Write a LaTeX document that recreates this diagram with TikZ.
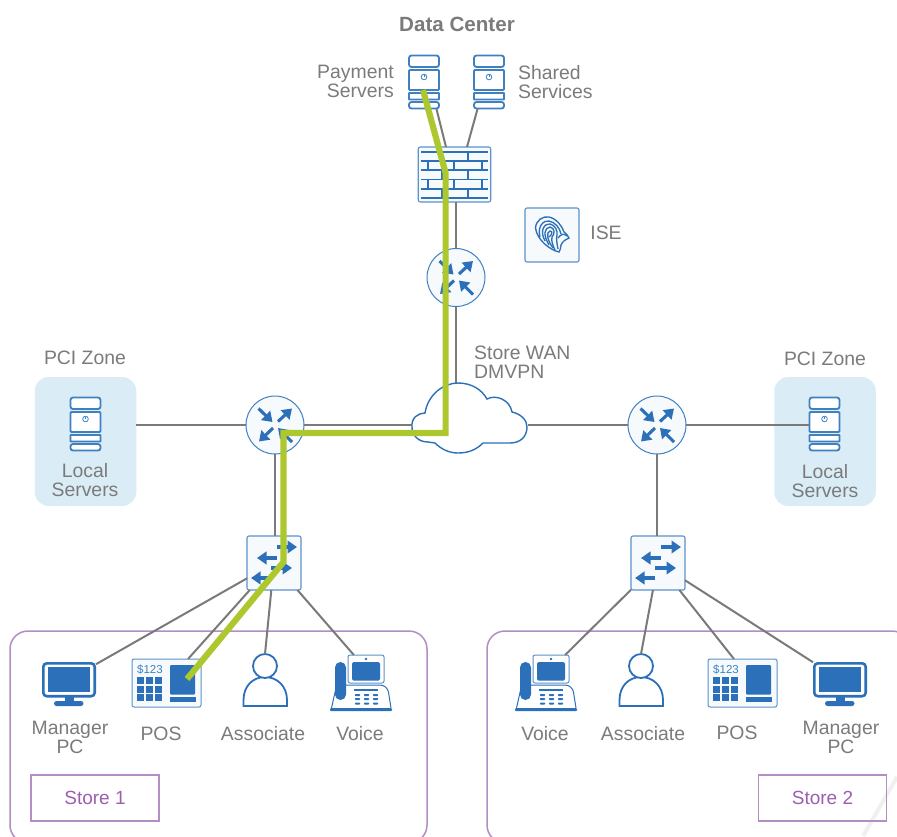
\documentclass[tikz,border=0pt]{standalone}
\usepackage{fontspec}
\setmainfont{Liberation Sans}
\usetikzlibrary{arrows.meta}
\definecolor{ciscoblue}{HTML}{2B70B8}
\definecolor{iconline}{HTML}{3F80C0}
\definecolor{iconfill}{HTML}{F7FAFD}
\definecolor{linegray}{HTML}{7A7A7A}
\definecolor{textgray}{HTML}{7B7B7B}
\definecolor{zoneblue}{HTML}{DAECF6}
\definecolor{storepurple}{HTML}{B28EC4}
\definecolor{storetext}{HTML}{9C5FB0}
\definecolor{pathgreen}{HTML}{ADC82E}
\tikzset{
  x=1pt,y=-1pt,
  lbl/.style={text=textgray,inner sep=0pt,font=\fontsize{19.4}{19}\selectfont,align=center},
  routerbox/.style={circle,draw=iconline,fill=iconfill,line width=1pt,minimum size=58pt,inner sep=0pt,outer sep=0pt},
  switchbox/.style={rectangle,rounded corners=2pt,draw=iconline!85,fill=iconfill,line width=1.1pt,minimum size=54pt,inner sep=0pt,outer sep=0pt},
  zonebox/.style={rectangle,rounded corners=14pt,fill=zoneblue,minimum width=101.5pt,minimum height=129pt,inner sep=0pt,outer sep=0pt},
  storeframe/.style={rectangle,rounded corners=18pt,draw=storepurple,line width=1.5pt,inner sep=0pt},
  storetag/.style={rectangle,draw=storepurple,line width=1.7pt,minimum width=128pt,minimum height=46pt,text=storetext,inner sep=0pt,font=\fontsize{19}{19}\selectfont},
  conn/.style={draw=linegray,line width=2pt},
  greenpath/.style={draw=pathgreen,line width=6.2pt,line join=miter},
  arr/.style={ciscoblue,line width=3.1pt,-{Triangle[length=9.5pt,width=12.5pt]}},
  icon/.style={draw=iconline,line width=1.8pt},
  devbox/.style={inner sep=0pt,outer sep=0pt},
  pics/serverart/.style={code={
    \begin{scope}[shift={(-424,-82)}]
    \draw[icon,fill=white,rounded corners=2.5pt] (409,67) -- (409,55.5) -- (439,55.5) -- (439,67) -- cycle;
    \draw[icon,fill=white,rounded corners=1pt] (409,70) rectangle (439,90);
    \draw[icon,fill=white,rounded corners=.5pt] (409,93) rectangle (439,99.5);
    \draw[icon,fill=white,rounded corners=2.5pt] (409,102) -- (409,108.5) -- (439,108.5) -- (439,102) -- cycle;
    \draw[iconline,line width=.8pt] (424,77) circle (2.8pt);
    \draw[iconline,line width=.8pt] (424,74.5) -- (424,77);
    \end{scope}}},
  pics/routerart/.style={code={
    \draw[arr] (-16.5,-16.5) -- (-2.5,-3);
    \draw[arr] (3,-3.5) -- (17,-16.5);
    \draw[arr] (-2,3) -- (-16,16.5);
    \draw[arr] (17,17) -- (3,3);}},
  pics/switchart/.style={code={
    \draw[arr] (3,-16) -- (23,-16);
    \draw[arr] (3,-5) -- (-17,-5);
    \draw[arr] (-3,5) -- (18,5);
    \draw[arr] (-3,15) -- (-23,15);}},
  pics/firewallart/.style={code={
    \begin{scope}[shift={(-454.5,-174.5)},ciscoblue,line width=1.9pt]
    \foreach \yy in {152,161,170,179.5,189,198} \draw (421,\yy) -- (488,\yy);
    \foreach \xx in {442,468} \foreach \yy/\zz in {152/161,170/179.5,189/198} \draw (\xx,\yy) -- (\xx,\zz);
    \foreach \xx in {428,454,482} \foreach \yy/\zz in {161/170,179.5/189} \draw (\xx,\yy) -- (\xx,\zz);
    \end{scope}}},
  pics/pcart/.style={code={
    \begin{scope}[shift={(-69,-679.5)}]
    \fill[ciscoblue] (64.5,696) rectangle (74,703);
    \fill[ciscoblue,rounded corners=2.5pt] (54,701) rectangle (83.5,706);
    \draw[ciscoblue,line width=2.6pt,fill=white,rounded corners=3.5pt] (43.3,663.3) rectangle (94.7,696.2);
    \fill[ciscoblue] (48,667) rectangle (90,692);
    \end{scope}}},
  pics/posart/.style={code={
    \begin{scope}[shift={(-166.5,-683)}]
    \foreach \xx in {137,146,155} \foreach \yy in {677,685.5,694} \fill[ciscoblue] (\xx,\yy) rectangle +(7,7);
    \fill[ciscoblue,rounded corners=1pt] (170,665) rectangle (195,694.5);
    \fill[ciscoblue] (170,697) rectangle (196,702);
    \node[text=iconline,inner sep=0pt,font=\fontsize{11.5}{12}\selectfont] (amt) at (150,670) {\$123};
    \end{scope}}},
  pics/personart/.style={code={
    \begin{scope}[shift={(-265,-680.5)}]
    \draw[ciscoblue,line width=1.8pt,fill=white] (243.5,706) -- (287,706) -- (287,700) .. controls (287,686) and (277,677) .. (265,677) .. controls (253,677) and (243.5,686) .. (243.5,700) -- cycle;
    \draw[ciscoblue,line width=1.8pt,fill=white] (265,666) circle (12pt);
    \end{scope}}},
  pics/voiceart/.style={code={
    \begin{scope}[shift={(-366,-669)}]
    \draw[ciscoblue,line width=1pt,fill=white,rounded corners=3pt] (331.5,708) -- (336,688) -- (340,685) -- (383,685) -- (388,689) -- (391,708);
    \fill[ciscoblue,rounded corners=1pt] (330,708) rectangle (392,711);
    \fill[ciscoblue,rounded corners=5.4pt] (335,662) rectangle (346,700);
    \fill[ciscoblue,rounded corners=1.5pt] (352,662) rectangle (380,680.5);
    \fill[ciscoblue] (366,659) circle (1.3pt);
    \fill[ciscoblue] (354,689) rectangle (378,691);
    \foreach \xx in {355,364,373} \foreach \yy in {694,698,702.5} \fill[ciscoblue,rounded corners=.7pt] (\xx,\yy) rectangle +(5,2);
    \end{scope}}},
  pics/fingerart/.style={code={
    \begin{scope}[shift={(-552,-235)},ciscoblue,line width=1.35pt]
    \draw (535.5,228) .. controls (536,220) and (543,216) .. (549,217) .. controls (557,219) and (562,226) .. (564,232) .. controls (566,233) and (568,236) .. (569,238) .. controls (566,239) and (563,241) .. (561,245) .. controls (560,248) and (561,250) .. (559,252) .. controls (550,250) and (537,240) .. (535.5,228) -- cycle;
    \draw (540,237) .. controls (537,226) and (544,220) .. (549,221) .. controls (555,222) and (560,228) .. (561,234);
    \draw (545,241) .. controls (539,230) and (545,223) .. (550,224) .. controls (555,225) and (558,231) .. (557,235) .. controls (556,238) and (557,244) .. (558,249);
    \draw (549,245) .. controls (543,235) and (544,228) .. (550,227) .. controls (555,228) and (555,234) .. (552,237) .. controls (551,241) and (553,246) .. (555,250);
    \draw (553,248) .. controls (547,240) and (546,232) .. (550,231) .. controls (553,231) and (552,235) .. (549,237);
    \draw (558,238) .. controls (561,234) and (564,233) .. (567,236);
    \end{scope}}},
}
\begin{document}
\begin{tikzpicture}
\clip (0,0) rectangle (897,836);
\fill[white] (0,0) rectangle (897,836);
\draw[draw=black!6,line width=4pt] (897,777) -- (863,836);

% store frames
\node[storeframe,minimum width=417pt,minimum height=212pt] (store1) at (218.5,737) {};
\node[storeframe,minimum width=423pt,minimum height=212pt] (store2) at (698.5,737) {};
\node[storetag] (tag1) at (95,798) {Store 1};
\node[storetag] (tag2) at (822.5,798) {Store 2};

% zones
\node[zonebox] (zone1) at (85.5,441.5) {};
\node[zonebox] (zone2) at (825,441.5) {};
\node[lbl] (zl1) at (85,358) {PCI Zone};
\node[lbl] (zl2) at (825,359) {PCI Zone};
\node[lbl] (ls1) at (85,480.5) {Local\\Servers};
\node[lbl] (ls2) at (825,481) {Local\\Servers};

% servers
\node[devbox,minimum width=31pt,minimum height=54pt] (pay) at (424,82) {};
\node[devbox,minimum width=31pt,minimum height=54pt] (sha) at (489,82) {};
\node[devbox,minimum width=31pt,minimum height=54pt] (loc1) at (85.5,424) {};
\node[devbox,minimum width=31pt,minimum height=54pt] (loc2) at (824.5,424) {};
\pic (pa) at (pay) {serverart};
\pic (sa) at (sha) {serverart};
\pic (la) at (loc1) {serverart};
\pic (lb) at (loc2) {serverart};

% labels top
\node[lbl,font=\fontsize{20.6}{21}\selectfont\bfseries] (dc) at (457,24) {Data Center};
\node[lbl,align=right,anchor=east] (payl) at (394,81) {Payment\\Servers};
\node[lbl,align=left,anchor=west] (shal) at (518,82) {Shared\\Services};
\node[lbl] (isel) at (606,233) {ISE};
\node[lbl,align=left,anchor=west] (wan) at (474,362.5) {Store WAN\\DMVPN};

% firewall, ise
\node[rectangle,rounded corners=2pt,draw=iconline!85,fill=iconfill,line width=1.1pt,minimum width=72.5pt,minimum height=55pt,inner sep=0pt,outer sep=0pt] (fw) at (454.5,174.5) {};
\pic (fwa) at (fw) {firewallart};
\node[rectangle,rounded corners=2pt,draw=iconline!85,fill=iconfill,line width=1.1pt,minimum size=54pt,inner sep=0pt,outer sep=0pt] (ise) at (552,235) {};
\pic (isa) at (ise) {fingerart};

% routers
\node[routerbox] (r0) at (456,277.5) {};
\node[routerbox] (r1) at (275,425) {};
\node[routerbox] (r2) at (657,425) {};
\pic (ra) at (r0) {routerart};
\pic (rb) at (r1) {routerart};
\pic (rc) at (r2) {routerart};

% switches
\node[switchbox] (sw1) at (274,563) {};
\node[switchbox] (sw2) at (658,563) {};
\pic (sa1) at (sw1) {switchart};
\pic (sa2) at (sw2) {switchart};

% cloud
\node[devbox,minimum width=116pt,minimum height=70pt] (cl) at (469.5,418) {};

% connectors
\draw[conn] ([xshift=-3pt]pay.south east) -- ([xshift=-8.5pt]fw.north);
\draw[conn] ([xshift=4pt]sha.south west) -- ([xshift=12.5pt]fw.north);
\draw[conn] (r0.north) -- (r0.north|-fw.south);
\draw[conn] (r0.south) -- (r0.south|-cl.north);
\draw[conn] (zone1.east|-r1.west) -- (r1.west);
\draw[conn] (r1.east) -- (r1.east-|cl.west);
\draw[conn] (r1.east-|cl.east) -- (r2.west);
\draw[conn] (r2.east) -- (r2.east-|loc2.west);
\draw[conn] (r1.south) -- (r1.south|-sw1.north);
\draw[conn] (r2.south) -- (r2.south|-sw2.north);

% cloud outline
\draw[draw=ciscoblue,line width=1.4pt,fill=white] (412,427) .. controls (411,418) and (418,413) .. (425,413) .. controls (428,394) and (444,383) .. (458,383) .. controls (472,383) and (482,390) .. (487,399) .. controls (496,394) and (510,400) .. (512,412) .. controls (521,414) and (527,420) .. (527,427) .. controls (527,437) and (520,443) .. (510,443) -- (483,443) .. controls (476,450) and (468,453) .. (458,453) .. controls (449,453) and (441,449) .. (435,443) -- (428,442) .. controls (418,442) and (412,435) .. (412,427) -- cycle;

% store 1 devices
\node[devbox,minimum width=54pt,minimum height=35pt] (pc1) at (69,679.5) {};
\node[rectangle,rounded corners=2pt,draw=iconline!85,fill=iconfill,line width=1pt,minimum width=69pt,minimum height=48pt,inner sep=0pt,outer sep=0pt] (pos1) at (166.5,683) {};
\node[devbox,minimum width=44pt,minimum height=53pt] (as1) at (265,680.5) {};
\node[rectangle,rounded corners=2pt,draw=iconline!85,fill=white,line width=1pt,minimum width=36pt,minimum height=28pt,inner sep=0pt,outer sep=0pt] (v1) at (366,669) {};
\pic (pca) at (pc1) {pcart};
\pic (posa) at (pos1) {posart};
\pic (asa) at (as1) {personart};
\pic (va) at (v1) {voiceart};
\node[lbl] (t1) at (70,737) {Manager\\PC};
\node[lbl] (t2) at (161,734) {POS};
\node[lbl] (t3) at (263,734) {Associate};
\node[lbl] (t4) at (360,734) {Voice};

% store 2 devices
\node[rectangle,rounded corners=2pt,draw=iconline!85,fill=white,line width=1pt,minimum width=36pt,minimum height=28pt,inner sep=0pt,outer sep=0pt] (v2) at (551,669) {};
\node[devbox,minimum width=44pt,minimum height=53pt] (as2) at (641,680.5) {};
\node[rectangle,rounded corners=2pt,draw=iconline!85,fill=iconfill,line width=1pt,minimum width=69pt,minimum height=48pt,inner sep=0pt,outer sep=0pt] (pos2) at (742.5,683) {};
\node[devbox,minimum width=54pt,minimum height=35pt] (pc2) at (840,679.5) {};
\pic (vb) at (v2) {voiceart};
\pic (asb) at (as2) {personart};
\pic (posb) at (pos2) {posart};
\pic (pcb) at (pc2) {pcart};
\node[lbl] (u1) at (545,734) {Voice};
\node[lbl] (u2) at (643,734) {Associate};
\node[lbl] (u3) at (737,733) {POS};
\node[lbl] (u4) at (841,737) {Manager\\PC};

% switch to device
\draw[conn] (sw1) -- (pc1);
\draw[conn] (sw1) -- (pos1);
\draw[conn] (sw1) -- (as1.north);
\draw[conn] (sw1) -- (v1);
\draw[conn] (sw2) -- (v2);
\draw[conn] (sw2) -- (as2.north);
\draw[conn] (sw2) -- ([xshift=-8.5pt]pos2.north);
\draw[conn] (sw2) -- (pc2);

% green path
\coordinate (g0) at (423,90);
\coordinate (g1) at (445.6,173);
\coordinate (g2) at (445.6,433);
\coordinate (g3) at (283.5,433);
\coordinate (g4) at (283.5,562);
\coordinate (g5) at (187,679);
\draw[greenpath] (g0) -- (g1) -- (g2) -- (g3) -- (g4) -- (g5);
\end{tikzpicture}
\end{document}
